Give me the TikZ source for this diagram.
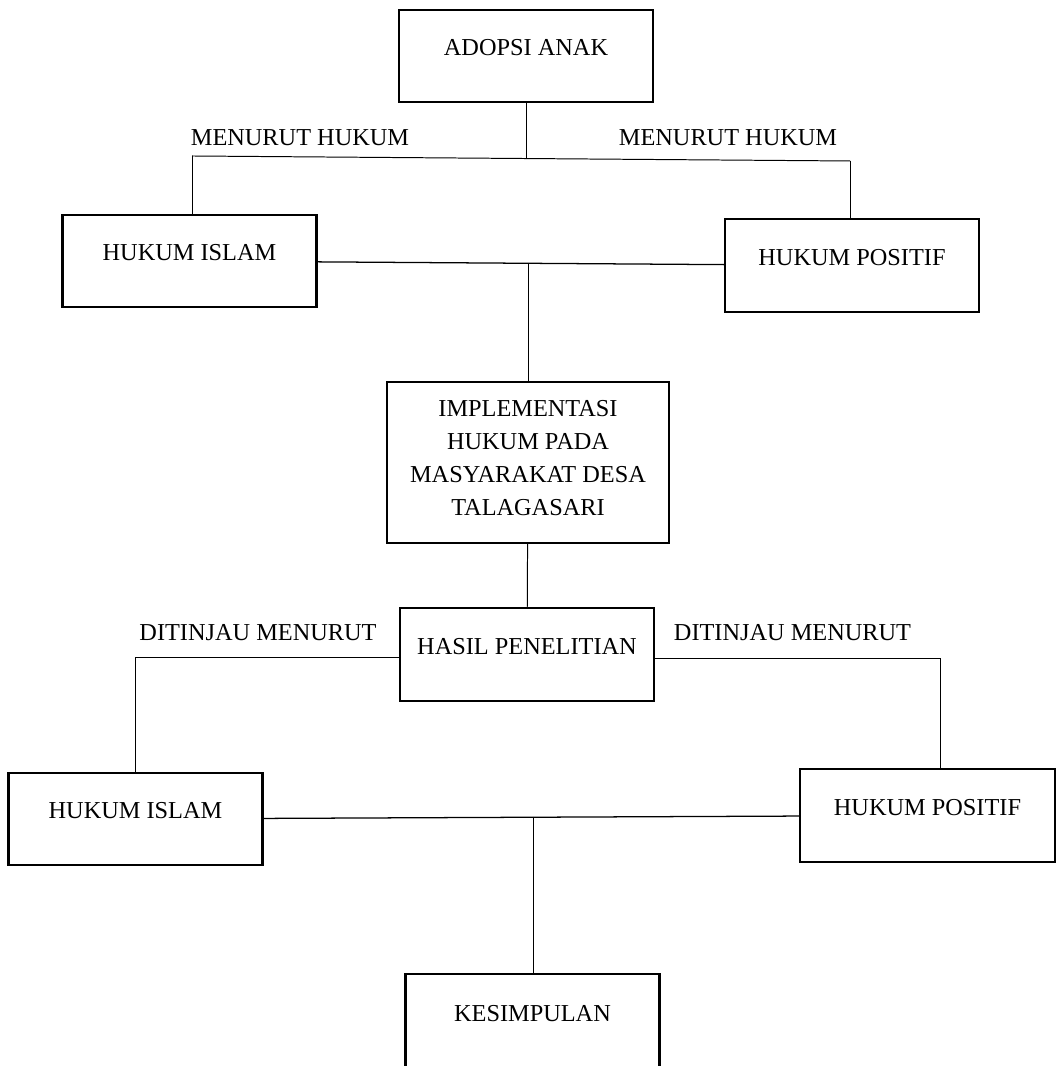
\documentclass[tikz,border=0pt]{standalone}
\usepackage{fontspec}
\setmainfont{Liberation Serif}
\usetikzlibrary{calc,positioning}
\tikzset{
  boxbase/.style  = {draw, line width=1.6pt, minimum width=6.35cm,
                     minimum height=2.3cm, inner sep=0pt},
  boxnode/.style  = {boxbase, text height=11.5pt, text depth=12pt},
  wire/.style     = {line width=0.7pt},
  mainwire/.style = {line width=0.9pt},
  lbl/.style      = {inner sep=0pt},
}

\begin{document}
\begin{tikzpicture}[every node/.style={font=\fontsize{17.3}{23.5}\selectfont}]
  \useasboundingbox (0,0) rectangle (26.425,26.65);

  % ---------------- adopsi anak & two laws -------------------------------
  \node[boxnode] (adopsi) at (13.15,25.25) {ADOPSI ANAK};
  \node[boxnode] (islamA) at (4.7375,20.125) {HUKUM ISLAM};
  \node[boxnode,minimum height=2.325cm] (positifA) at (21.3,20.0125) {HUKUM POSITIF};
  \node[lbl] (menurutL) at (7.5,23.2) {MENURUT HUKUM};
  \node[lbl] (menurutR) at (18.2,23.2) {MENURUT HUKUM};

  \coordinate (topL) at (4.8,22.75);
  \coordinate (topR) at (21.25,22.625);
  \coordinate (topJ) at (13.15,22.69);
  \draw[wire] (topL) -- (topR);
  \draw[wire] (adopsi) -- (topJ);
  \draw[wire] (topL) -- (topL |- islamA.north);
  \draw[wire] (topR) -- (topR |- positifA.north);

  % ---------------- implementasi & hasil ---------------------------------
  \node[boxbase,minimum width=7.05cm,minimum height=4.025cm,align=center]
        (impl) at (13.2,15.0875)
        {IMPLEMENTASI\\HUKUM PADA\\MASYARAKAT DESA\\TALAGASARI\rule[-6.4pt]{0pt}{0pt}};
  \node[boxnode,minimum height=2.325cm] (hasil) at (13.175,10.2875) {HASIL PENELITIAN};

  \draw[mainwire] (islamA) -- (positifA);
  \coordinate (midJ) at (13.2,20.06);
  \draw[wire] (midJ) -- (impl);
  \draw[wire] (impl) -- (hasil);

  % ---------------- second pair of laws ----------------------------------
  \node[boxnode] (islamB) at (3.3875,6.175) {HUKUM ISLAM};
  \node[boxnode,minimum width=6.375cm,minimum height=2.325cm] (positifB) at (23.1875,6.2625) {HUKUM POSITIF};
  \node[lbl] (tinjauL) at (6.45,10.825) {DITINJAU MENURUT};
  \node[lbl] (tinjauR) at (19.8125,10.825) {DITINJAU MENURUT};

  \coordinate (hasilL) at (3.375,10.225);
  \coordinate (hasilR) at (23.5,10.18);
  \draw[wire] (hasil.west |- hasilL) -- (hasilL) -- (hasilL |- islamB.north);
  \draw[wire] (hasil.east |- hasilR) -- (hasilR) -- (hasilR |- positifB.north);

  % ---------------- kesimpulan -------------------------------------------
  \node[boxnode,minimum height=2.4cm] (kes) at (13.3125,1.1) {KESIMPULAN};
  \draw[mainwire] (islamB) -- (positifB);
  \coordinate (botJ) at (13.33,6.225);
  \draw[wire] (botJ) -- (botJ |- kes.north);
\end{tikzpicture}
\end{document}
